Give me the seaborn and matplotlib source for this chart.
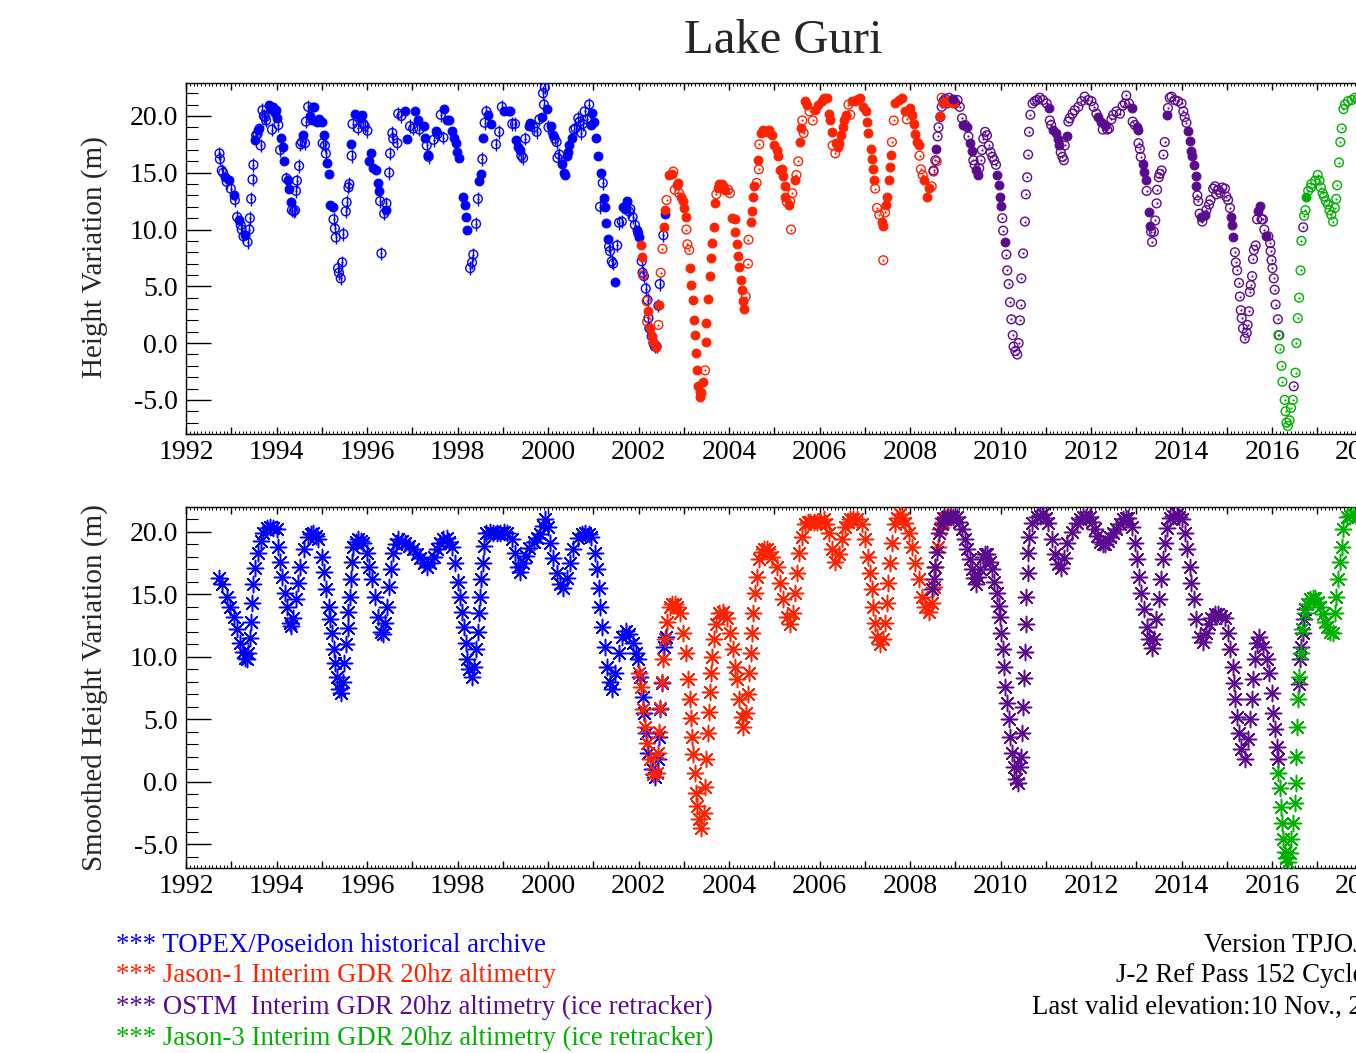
import numpy as np
import pandas as pd
import matplotlib
matplotlib.use("Agg")
import matplotlib.pyplot as plt
from matplotlib.ticker import MultipleLocator, FuncFormatter
import seaborn as sns

# ---------------- data (decimal year, height [m], filled flag) ----------------
topex_obs = [
    (1992.74, 16.7, 0), (1992.75, 16.2, 0), (1992.79, 15.2, 0), (1992.82, 15.0, 0), (1992.86, 14.6, 1),
    (1992.90, 14.2, 0), (1992.94, 14.4, 1), (1992.99, 13.6, 0), (1993.05, 13.0, 1), (1993.08, 12.6, 0),
    (1993.13, 11.1, 0), (1993.17, 10.8, 1), (1993.21, 10.4, 0), (1993.23, 10.0, 0), (1993.27, 9.4, 0),
    (1993.31, 9.5, 1), (1993.36, 8.9, 0), (1993.40, 10.0, 0), (1993.41, 11.0, 0), (1993.44, 12.7, 0),
    (1993.47, 14.4, 0), (1993.49, 15.7, 0), (1993.52, 17.9, 1), (1993.55, 18.3, 0), (1993.58, 18.4, 0),
    (1993.60, 18.8, 1), (1993.62, 18.9, 1), (1993.65, 17.4, 0), (1993.69, 20.5, 0), (1993.72, 20.0, 0),
    (1993.75, 19.9, 0), (1993.77, 19.6, 0), (1993.84, 21.0, 1), (1993.88, 20.6, 1), (1993.90, 18.8, 0),
    (1993.93, 20.8, 1), (1993.96, 20.3, 1), (1993.99, 20.5, 1), (1994.01, 19.8, 1), (1994.04, 19.2, 0),
    (1994.08, 17.0, 0), (1994.11, 18.1, 1), (1994.14, 17.3, 1), (1994.17, 16.0, 1), (1994.22, 14.5, 0),
    (1994.25, 14.4, 1), (1994.28, 13.6, 1), (1994.31, 12.4, 1), (1994.34, 11.7, 0), (1994.38, 11.6, 0),
    (1994.41, 11.7, 0), (1994.43, 13.4, 0), (1994.45, 14.3, 0), (1994.50, 15.6, 0), (1994.53, 17.5, 0),
    (1994.56, 17.7, 0), (1994.58, 18.3, 1), (1994.63, 17.6, 0), (1994.65, 19.5, 0), (1994.70, 20.8, 0),
    (1994.75, 20.0, 1), (1994.78, 19.6, 1), (1994.80, 20.8, 1), (1994.83, 20.8, 1), (1994.89, 19.5, 1),
    (1994.95, 19.7, 1), (1995.00, 19.5, 1), (1995.02, 17.6, 0), (1995.05, 18.3, 1), (1995.07, 17.4, 0),
    (1995.09, 16.7, 0), (1995.12, 15.9, 1), (1995.15, 14.9, 1), (1995.18, 12.2, 1), (1995.24, 12.0, 1),
    (1995.26, 10.9, 0), (1995.29, 10.1, 0), (1995.31, 9.3, 0), (1995.36, 6.6, 0), (1995.38, 6.2, 0),
    (1995.42, 5.7, 0), (1995.45, 7.1, 0), (1995.48, 9.6, 0), (1995.53, 11.6, 0), (1995.55, 12.4, 0),
    (1995.59, 13.7, 0), (1995.61, 14.0, 0), (1995.64, 17.5, 1), (1995.66, 16.5, 0), (1995.68, 19.3, 0),
    (1995.73, 20.2, 1), (1995.80, 18.9, 0), (1995.85, 19.8, 1), (1995.88, 20.1, 1), (1995.92, 19.3, 0),
    (1995.95, 19.1, 0), (1996.01, 18.7, 0), (1996.05, 16.0, 1), (1996.08, 16.7, 1), (1996.14, 15.4, 1),
    (1996.20, 15.2, 1), (1996.24, 14.1, 1), (1996.27, 13.4, 1), (1996.29, 12.5, 0), (1996.32, 7.9, 0),
    (1996.38, 11.4, 0), (1996.41, 11.7, 1), (1996.43, 12.3, 0), (1996.49, 15.0, 0), (1996.51, 16.7, 0),
    (1996.56, 18.5, 0), (1996.58, 18.0, 0), (1996.67, 17.6, 0), (1996.69, 20.2, 0), (1996.76, 20.0, 0),
    (1996.84, 20.4, 1), (1996.89, 18.0, 1), (1996.95, 19.1, 0), (1997.02, 18.9, 0), (1997.06, 20.4, 1),
    (1997.13, 19.6, 1), (1997.16, 18.8, 0), (1997.25, 19.1, 1), (1997.28, 18.1, 1), (1997.32, 17.4, 0),
    (1997.34, 16.6, 1), (1997.36, 16.4, 0), (1997.47, 17.9, 0), (1997.53, 18.7, 1), (1997.56, 18.4, 0),
    (1997.63, 20.1, 0), (1997.69, 18.1, 0), (1997.70, 20.6, 1), (1997.76, 19.6, 1), (1997.82, 19.6, 1),
    (1997.87, 18.7, 1), (1997.93, 18.1, 1), (1997.97, 17.6, 1), (1997.99, 16.8, 1), (1998.03, 16.3, 1),
    (1998.13, 12.9, 1), (1998.17, 12.2, 1), (1998.19, 11.1, 1), (1998.22, 10.0, 1), (1998.28, 6.6, 0),
    (1998.32, 7.1, 0), (1998.35, 7.8, 0), (1998.41, 10.5, 0), (1998.45, 12.7, 0), (1998.48, 14.3, 1),
    (1998.52, 14.9, 1), (1998.55, 16.2, 0), (1998.57, 18.1, 1), (1998.60, 19.4, 0), (1998.64, 20.4, 0),
    (1998.68, 20.1, 1), (1998.75, 19.3, 1), (1998.85, 17.5, 0), (1998.92, 18.6, 0), (1998.98, 20.8, 0),
    (1999.02, 20.4, 1), (1999.13, 20.4, 1), (1999.16, 20.4, 1), (1999.21, 19.3, 0), (1999.27, 19.3, 0),
    (1999.29, 17.9, 1), (1999.34, 17.3, 1), (1999.38, 17.0, 1), (1999.41, 16.5, 0), (1999.45, 16.3, 0),
    (1999.50, 18.0, 0), (1999.57, 19.1, 1), (1999.61, 19.4, 1), (1999.68, 19.0, 0), (1999.75, 18.6, 0),
    (1999.81, 19.7, 0), (1999.86, 19.9, 1), (1999.89, 22.0, 0), (1999.93, 22.5, 0), (1999.91, 21.0, 0),
    (1999.97, 20.6, 1), (2000.01, 19.0, 0), (2000.06, 19.1, 1), (2000.10, 18.3, 1), (2000.15, 18.0, 0),
    (2000.19, 17.7, 0), (2000.21, 16.3, 0), (2000.25, 16.6, 0), (2000.30, 15.8, 1), (2000.35, 15.0, 1),
    (2000.37, 14.8, 1), (2000.41, 16.5, 1), (2000.45, 16.8, 1), (2000.47, 17.4, 1), (2000.52, 18.1, 1),
    (2000.57, 18.8, 0), (2000.61, 18.9, 0), (2000.67, 19.8, 0), (2000.70, 19.5, 0), (2000.74, 18.5, 0),
    (2000.77, 19.3, 0), (2000.81, 20.4, 0), (2000.86, 19.7, 0), (2000.91, 21.0, 0), (2000.94, 19.2, 1),
    (2000.98, 20.3, 1), (2001.01, 19.5, 1), (2001.07, 18.1, 1), (2001.11, 16.5, 1), (2001.15, 12.0, 0),
    (2001.18, 15.0, 1), (2001.21, 14.1, 0), (2001.24, 12.8, 1), (2001.27, 12.0, 1), (2001.29, 10.6, 1),
    (2001.32, 9.2, 1), (2001.35, 8.5, 0), (2001.37, 8.1, 0), (2001.41, 7.2, 0), (2001.44, 7.0, 0),
    (2001.48, 5.4, 1), (2001.53, 8.6, 0), (2001.57, 10.6, 0), (2001.63, 10.7, 0), (2001.66, 12.0, 1),
    (2001.71, 11.8, 1), (2001.75, 12.5, 1), (2001.79, 11.6, 0), (2001.82, 11.8, 0), (2001.87, 11.1, 0),
    (2001.92, 10.4, 0), (2001.96, 10.0, 1), (2001.99, 9.7, 0), (2002.02, 9.3, 1), (2002.07, 7.2, 0),
    (2002.09, 6.2, 0), (2002.12, 5.9, 0), (2002.16, 4.8, 0), (2002.20, 3.8, 0), (2002.22, 2.2, 0),
    (2002.24, 1.3, 0), (2002.29, 0.6, 0), (2002.33, 0.0, 0), (2002.36, -0.3, 0), (2002.40, -0.3, 0),
    (2002.44, 3.3, 0), (2002.47, 5.2, 0), (2002.55, 9.5, 0), (2002.58, 11.4, 1),
]

jason1_obs = [
    (2002.05, 8.6, 1), (2002.07, 7.6, 1), (2002.10, 6.0, 0), (2002.18, 3.7, 0), (2002.21, 2.8, 1),
    (2002.19, 1.9, 0), (2002.25, 1.3, 1), (2002.29, 0.6, 1), (2002.33, 0.1, 1), (2002.38, -0.3, 1),
    (2002.44, 1.6, 0), (2002.46, 3.4, 1), (2002.49, 6.2, 0), (2002.53, 8.3, 0), (2002.56, 10.2, 1),
    (2002.58, 11.7, 1), (2002.62, 12.6, 0), (2002.68, 14.8, 1), (2002.73, 14.9, 1), (2002.77, 15.1, 0),
    (2002.80, 13.5, 0), (2002.84, 13.9, 1), (2002.88, 14.1, 1), (2002.90, 13.2, 0), (2002.95, 12.9, 1),
    (2002.99, 12.5, 1), (2003.00, 11.9, 1), (2003.04, 11.1, 1), (2003.06, 10.0, 0), (2003.08, 8.7, 0),
    (2003.12, 8.2, 0), (2003.14, 6.6, 1), (2003.17, 5.1, 1), (2003.20, 3.8, 1), (2003.22, 2.0, 1),
    (2003.25, 0.7, 1), (2003.27, -0.9, 1), (2003.30, -2.4, 1), (2003.32, -3.8, 1), (2003.35, -4.3, 1),
    (2003.37, -4.7, 1), (2003.39, -4.4, 0), (2003.43, -3.4, 1), (2003.47, -2.4, 0), (2003.49, 0.1, 1),
    (2003.50, 1.8, 1), (2003.54, 3.9, 1), (2003.58, 5.9, 1), (2003.60, 7.5, 1), (2003.63, 8.8, 1),
    (2003.67, 10.2, 1), (2003.69, 12.3, 1), (2003.72, 13.1, 0), (2003.75, 13.7, 1), (2003.79, 14.0, 1),
    (2003.84, 14.0, 1), (2003.87, 13.8, 1), (2003.91, 13.5, 1), (2003.98, 13.5, 0), (2004.02, 13.2, 0),
    (2004.07, 11.0, 1), (2004.13, 10.9, 1), (2004.14, 9.8, 1), (2004.18, 8.7, 1), (2004.20, 7.7, 1),
    (2004.22, 6.7, 1), (2004.26, 5.6, 1), (2004.28, 4.7, 1), (2004.31, 3.7, 1), (2004.33, 3.0, 1),
    (2004.37, 4.1, 0), (2004.42, 7.0, 0), (2004.43, 9.1, 0), (2004.48, 10.7, 1), (2004.50, 11.6, 1),
    (2004.52, 12.9, 1), (2004.56, 13.8, 1), (2004.61, 14.1, 0), (2004.64, 16.1, 1), (2004.66, 15.3, 0),
    (2004.67, 17.5, 0), (2004.70, 18.5, 1), (2004.75, 18.8, 1), (2004.83, 18.6, 1), (2004.89, 18.8, 1),
    (2004.94, 18.3, 1), (2005.00, 17.4, 1), (2005.05, 17.0, 1), (2005.09, 16.5, 1), (2005.13, 15.2, 1),
    (2005.17, 15.3, 1), (2005.20, 14.7, 1), (2005.23, 13.8, 1), (2005.24, 12.9, 1), (2005.28, 12.4, 0),
    (2005.32, 12.2, 1), (2005.35, 12.5, 0), (2005.37, 10.0, 0), (2005.40, 13.2, 0), (2005.46, 14.4, 1),
    (2005.49, 14.8, 0), (2005.53, 16.0, 0), (2005.57, 17.7, 1), (2005.59, 18.9, 1), (2005.62, 19.6, 0),
    (2005.65, 18.5, 0), (2005.68, 21.3, 1), (2005.72, 21.0, 1), (2005.78, 20.4, 0), (2005.85, 19.6, 0),
    (2005.90, 20.5, 1), (2005.97, 21.0, 1), (2006.05, 21.3, 1), (2006.10, 21.6, 1), (2006.16, 21.6, 1),
    (2006.20, 20.2, 1), (2006.23, 19.6, 1), (2006.27, 18.6, 1), (2006.29, 17.4, 0), (2006.35, 16.7, 0),
    (2006.37, 17.6, 1), (2006.40, 17.3, 1), (2006.44, 17.6, 1), (2006.48, 18.3, 1), (2006.52, 19.0, 1),
    (2006.55, 19.6, 1), (2006.59, 20.1, 1), (2006.64, 21.0, 0), (2006.68, 20.1, 0), (2006.71, 21.3, 1),
    (2006.79, 21.3, 1), (2006.84, 21.4, 0), (2006.90, 21.6, 1), (2006.97, 20.8, 1), (2007.02, 20.4, 1),
    (2007.05, 19.5, 1), (2007.08, 18.5, 1), (2007.13, 17.1, 1), (2007.17, 16.2, 1), (2007.19, 15.3, 1),
    (2007.21, 14.4, 1), (2007.23, 13.6, 0), (2007.27, 11.9, 0), (2007.32, 11.3, 0), (2007.38, 10.7, 1),
    (2007.40, 10.3, 1), (2007.41, 7.3, 0), (2007.45, 11.5, 0), (2007.47, 12.2, 1), (2007.50, 12.9, 1),
    (2007.53, 14.4, 1), (2007.56, 15.5, 1), (2007.58, 16.6, 1), (2007.60, 17.7, 0), (2007.64, 19.6, 0),
    (2007.67, 21.1, 1), (2007.75, 21.4, 1), (2007.82, 21.6, 1), (2007.89, 20.4, 1), (2007.93, 19.7, 0),
    (2007.99, 20.7, 1), (2008.04, 20.1, 1), (2008.08, 19.3, 1), (2008.11, 18.4, 1), (2008.15, 17.7, 1),
    (2008.19, 17.4, 1), (2008.21, 16.5, 0), (2008.24, 15.3, 0), (2008.28, 14.8, 0), (2008.32, 14.4, 1),
    (2008.37, 12.9, 1), (2008.43, 13.7, 1), (2008.48, 13.8, 0), (2008.52, 15.1, 0), (2008.59, 16.0, 0),
    (2008.67, 20.0, 1), (2008.70, 21.6, 0), (2008.74, 21.1, 1), (2008.81, 21.3, 1), (2008.89, 21.4, 1),
    (2008.96, 21.1, 1),
]

ostm_obs = [
    (2008.52, 15.2, 0), (2008.56, 16.1, 0), (2008.58, 17.1, 1), (2008.61, 18.2, 0), (2008.63, 19.0, 0),
    (2008.67, 19.9, 0), (2008.70, 20.8, 0), (2008.74, 21.3, 0), (2008.78, 21.5, 0), (2008.82, 21.1, 0),
    (2008.86, 21.6, 0), (2008.90, 21.3, 0), (2008.95, 21.5, 1), (2009.00, 21.1, 0), (2009.05, 21.4, 0),
    (2009.10, 20.8, 0), (2009.15, 19.8, 0), (2009.18, 19.2, 1), (2009.22, 19.2, 0), (2009.26, 19.0, 1),
    (2009.29, 18.2, 0), (2009.33, 17.6, 1), (2009.37, 16.9, 1), (2009.40, 16.1, 0), (2009.43, 15.7, 0),
    (2009.46, 15.2, 1), (2009.50, 14.8, 1), (2009.53, 15.4, 0), (2009.56, 16.1, 0), (2009.59, 17.0, 0),
    (2009.62, 18.0, 0), (2009.66, 18.6, 0), (2009.70, 18.3, 0), (2009.74, 17.4, 0), (2009.78, 16.8, 0),
    (2009.82, 16.4, 0), (2009.86, 16.1, 0), (2009.90, 15.7, 0), (2009.93, 14.8, 1), (2009.96, 13.9, 1),
    (2009.99, 12.9, 1), (2010.01, 12.1, 1), (2010.04, 11.0, 0), (2010.06, 9.9, 0), (2010.10, 8.9, 1),
    (2010.13, 7.8, 0), (2010.15, 6.4, 0), (2010.18, 5.2, 0), (2010.21, 3.6, 0), (2010.24, 2.1, 0),
    (2010.27, 0.7, 0), (2010.29, -0.3, 0), (2010.33, -0.7, 0), (2010.37, -1.0, 0), (2010.40, 0.0, 0),
    (2010.43, 2.0, 0), (2010.45, 3.4, 0), (2010.46, 5.7, 0), (2010.50, 7.9, 0), (2010.54, 10.7, 0),
    (2010.56, 13.1, 0), (2010.59, 14.6, 0), (2010.61, 16.6, 0), (2010.63, 18.6, 0), (2010.66, 20.1, 0),
    (2010.71, 21.1, 0), (2010.76, 21.3, 0), (2010.81, 21.4, 0), (2010.87, 21.6, 0), (2010.94, 21.4, 0),
    (2011.02, 21.1, 0), (2011.07, 20.7, 1), (2011.09, 19.6, 0), (2011.12, 19.2, 0), (2011.16, 18.8, 1),
    (2011.22, 18.5, 1), (2011.27, 18.0, 1), (2011.29, 17.4, 1), (2011.33, 16.8, 0), (2011.37, 16.4, 0),
    (2011.40, 16.1, 0), (2011.42, 17.4, 0), (2011.46, 18.2, 1), (2011.50, 19.5, 0), (2011.53, 19.8, 0),
    (2011.59, 20.2, 0), (2011.64, 20.5, 0), (2011.72, 20.8, 0), (2011.79, 21.3, 0), (2011.86, 21.7, 0),
    (2011.94, 21.4, 0), (2012.01, 21.3, 0), (2012.06, 20.8, 0), (2012.12, 20.2, 0), (2012.16, 19.9, 1),
    (2012.22, 19.5, 1), (2012.26, 18.8, 0), (2012.31, 19.2, 1), (2012.36, 18.8, 0), (2012.40, 18.9, 0),
    (2012.45, 19.7, 0), (2012.49, 20.1, 0), (2012.56, 20.4, 0), (2012.64, 20.2, 0), (2012.70, 20.9, 0),
    (2012.75, 21.1, 0), (2012.78, 21.8, 0), (2012.84, 21.1, 0), (2012.90, 20.7, 1), (2012.92, 19.5, 0),
    (2012.97, 19.2, 0), (2013.01, 19.0, 1), (2013.03, 18.8, 1), (2013.05, 17.6, 0), (2013.08, 17.1, 0),
    (2013.10, 16.4, 0), (2013.14, 15.8, 1), (2013.17, 15.1, 1), (2013.21, 14.4, 1), (2013.23, 13.4, 0),
    (2013.28, 11.5, 1), (2013.30, 10.3, 1), (2013.33, 9.8, 0), (2013.35, 8.9, 0), (2013.39, 9.8, 0),
    (2013.42, 10.8, 0), (2013.45, 12.3, 0), (2013.46, 13.5, 0), (2013.50, 14.6, 0), (2013.52, 14.9, 0),
    (2013.56, 15.2, 0), (2013.60, 16.6, 0), (2013.63, 17.7, 0), (2013.67, 20.1, 1), (2013.70, 20.7, 0),
    (2013.74, 21.6, 0), (2013.78, 21.7, 0), (2013.85, 21.4, 0), (2013.92, 21.3, 0), (2014.00, 21.1, 0),
    (2014.04, 20.4, 0), (2014.07, 19.9, 0), (2014.11, 19.4, 0), (2014.15, 18.7, 1), (2014.18, 17.8, 1),
    (2014.20, 16.9, 1), (2014.24, 16.5, 1), (2014.28, 15.7, 1), (2014.31, 14.7, 1), (2014.33, 13.8, 1),
    (2014.35, 13.0, 0), (2014.37, 12.5, 0), (2014.40, 11.4, 0), (2014.44, 11.1, 1), (2014.46, 10.7, 0),
    (2014.52, 11.3, 1), (2014.55, 11.7, 0), (2014.61, 12.2, 0), (2014.64, 12.6, 0), (2014.70, 13.6, 0),
    (2014.74, 13.8, 0), (2014.77, 13.1, 0), (2014.81, 13.5, 0), (2014.86, 13.2, 0), (2014.90, 13.7, 0),
    (2014.96, 13.6, 0), (2014.99, 12.9, 0), (2015.03, 12.6, 0), (2015.07, 11.9, 0), (2015.09, 11.1, 1),
    (2015.12, 10.4, 1), (2015.14, 9.3, 1), (2015.18, 8.0, 0), (2015.20, 7.1, 0), (2015.23, 6.4, 0),
    (2015.27, 5.3, 0), (2015.29, 4.1, 0), (2015.31, 2.9, 0), (2015.33, 2.2, 0), (2015.36, 1.3, 0),
    (2015.40, 0.4, 0), (2015.44, 0.9, 0), (2015.46, 1.6, 0), (2015.49, 2.8, 0), (2015.51, 4.5, 0),
    (2015.53, 5.1, 0), (2015.56, 5.9, 0), (2015.58, 7.4, 0), (2015.60, 8.2, 0), (2015.64, 8.6, 0),
    (2015.67, 10.9, 0), (2015.69, 11.6, 1), (2015.73, 12.1, 1), (2015.77, 10.9, 0), (2015.80, 10.9, 0),
    (2015.83, 10.0, 0), (2015.86, 9.4, 1), (2015.92, 9.4, 0), (2015.96, 8.8, 0), (2015.97, 8.1, 0),
    (2015.99, 7.3, 0), (2016.01, 6.6, 0), (2016.04, 5.7, 0), (2016.06, 4.7, 0), (2016.08, 3.4, 0),
    (2016.13, 2.1, 0), (2016.16, 0.7, 0), (2016.48, -3.8, 0), (2016.69, 10.2, 0),
]

jason3_obs = [
    (2016.14, 0.7, 0), (2016.17, -0.5, 0), (2016.21, -2.0, 0), (2016.23, -3.4, 0), (2016.28, -5.0, 0),
    (2016.30, -6.0, 0), (2016.32, -7.0, 0), (2016.35, -7.3, 0), (2016.39, -6.8, 0), (2016.42, -5.7, 0),
    (2016.46, -5.0, 0), (2016.52, -2.6, 0), (2016.54, 0.0, 0), (2016.57, 2.2, 0), (2016.60, 4.0, 0),
    (2016.63, 6.4, 0), (2016.65, 9.0, 0), (2016.71, 11.2, 0), (2016.74, 11.7, 0), (2016.76, 12.9, 1),
    (2016.80, 13.4, 0), (2016.86, 13.7, 0), (2016.87, 14.0, 0), (2016.95, 14.3, 0), (2017.01, 14.8, 0),
    (2017.05, 14.3, 0), (2017.08, 13.7, 0), (2017.12, 13.2, 0), (2017.15, 12.9, 0), (2017.19, 12.5, 0),
    (2017.24, 12.2, 0), (2017.27, 11.7, 0), (2017.31, 11.3, 0), (2017.35, 10.7, 0), (2017.39, 11.9, 0),
    (2017.42, 12.7, 0), (2017.44, 13.9, 0), (2017.48, 15.9, 0), (2017.51, 17.7, 0), (2017.54, 18.9, 0),
    (2017.58, 20.6, 0), (2017.61, 21.0, 0), (2017.68, 21.3, 0), (2017.76, 21.4, 0), (2017.83, 21.6, 0),
    (2017.90, 21.5, 0), (2017.97, 21.4, 0),
]

# smoothed series (decimal year, height [m])
topex_smooth = [
    (1992.74, 16.3), (1992.80, 15.8), (1992.90, 14.8), (1992.97, 14.0), (1993.05, 13.2), (1993.12, 12.2),
    (1993.19, 11.1), (1993.25, 10.4), (1993.30, 9.9), (1993.34, 9.8), (1993.38, 10.3), (1993.41, 11.5),
    (1993.44, 12.8), (1993.46, 14.3), (1993.49, 15.8), (1993.52, 17.1), (1993.60, 18.3), (1993.66, 19.3),
    (1993.71, 19.9), (1993.78, 20.3), (1993.86, 20.4), (1993.93, 20.3), (1994.00, 20.2), (1994.04, 18.8),
    (1994.08, 17.6), (1994.13, 16.4), (1994.19, 15.1), (1994.24, 14.0), (1994.30, 12.7), (1994.33, 12.5),
    (1994.37, 13.1), (1994.43, 14.6), (1994.48, 15.9), (1994.53, 17.2), (1994.61, 18.6), (1994.70, 19.6),
    (1994.76, 19.8), (1994.81, 19.9), (1994.87, 19.7), (1994.92, 19.4), (1995.00, 18.0), (1995.05, 16.8),
    (1995.09, 15.4), (1995.15, 14.0), (1995.18, 13.0), (1995.22, 11.9), (1995.26, 10.6), (1995.29, 9.5),
    (1995.33, 8.4), (1995.39, 7.4), (1995.42, 7.1), (1995.46, 8.0), (1995.49, 9.5), (1995.54, 11.0),
    (1995.57, 12.3), (1995.59, 13.6), (1995.62, 14.8), (1995.64, 16.2), (1995.66, 17.6), (1995.70, 18.8),
    (1995.75, 19.2), (1995.81, 19.4), (1995.87, 19.3), (1995.92, 19.1), (1996.00, 18.3), (1996.05, 17.2),
    (1996.10, 16.2), (1996.18, 14.8), (1996.25, 13.2), (1996.32, 12.0), (1996.36, 11.8), (1996.40, 12.7),
    (1996.45, 14.0), (1996.49, 15.6), (1996.52, 17.0), (1996.58, 18.3), (1996.64, 19.0), (1996.69, 19.4),
    (1996.77, 19.3), (1996.84, 19.1), (1996.93, 18.9), (1997.02, 18.6), (1997.10, 18.2), (1997.17, 17.9),
    (1997.25, 17.5), (1997.32, 17.2), (1997.40, 17.5), (1997.47, 18.0), (1997.54, 18.6), (1997.61, 19.1),
    (1997.69, 19.4), (1997.76, 19.5), (1997.82, 19.2), (1997.87, 18.8), (1997.94, 17.5), (1998.00, 16.0),
    (1998.06, 14.8), (1998.11, 13.6), (1998.14, 12.4), (1998.19, 11.1), (1998.22, 9.8), (1998.26, 9.0),
    (1998.31, 8.4), (1998.37, 9.2), (1998.41, 10.6), (1998.45, 12.0), (1998.48, 13.5), (1998.50, 14.8),
    (1998.53, 16.2), (1998.56, 17.5), (1998.59, 18.9), (1998.64, 19.9), (1998.72, 20.0), (1998.79, 19.9),
    (1998.87, 19.9), (1998.94, 19.9), (1999.02, 20.0), (1999.09, 19.9), (1999.20, 19.4), (1999.27, 18.3),
    (1999.34, 17.2), (1999.39, 16.8), (1999.45, 17.5), (1999.51, 18.1), (1999.57, 18.7), (1999.68, 19.2),
    (1999.75, 19.5), (1999.82, 19.8), (1999.88, 20.5), (1999.93, 21.0), (2000.00, 20.4), (2000.05, 19.1),
    (2000.12, 17.9), (2000.19, 16.7), (2000.27, 15.8), (2000.34, 15.5), (2000.41, 16.3), (2000.48, 17.5),
    (2000.56, 18.6), (2000.67, 19.5), (2000.75, 19.8), (2000.82, 19.9), (2000.90, 19.8), (2000.96, 19.6),
    (2001.04, 18.3), (2001.09, 17.0), (2001.13, 15.5), (2001.16, 14.0), (2001.20, 12.4), (2001.26, 10.8),
    (2001.31, 9.2), (2001.37, 8.0), (2001.42, 7.4), (2001.49, 8.7), (2001.56, 10.3), (2001.64, 11.6),
    (2001.72, 12.1), (2001.80, 11.8), (2001.88, 11.1), (2001.95, 10.3), (2001.99, 9.8), (2002.04, 8.4),
    (2002.09, 6.8), (2002.13, 5.5), (2002.16, 3.9), (2002.21, 2.3), (2002.29, 1.0), (2002.36, 0.4),
    (2002.44, 1.8), (2002.46, 3.6), (2002.47, 5.8), (2002.51, 7.9), (2002.56, 10.8), (2002.60, 11.6),
]

jason1_smooth = [
    (2002.02, 8.7), (2002.05, 7.6), (2002.09, 5.8), (2002.14, 4.4), (2002.19, 3.1), (2002.25, 1.8),
    (2002.33, 0.6), (2002.40, 0.7), (2002.43, 2.3), (2002.46, 4.0), (2002.47, 5.9), (2002.51, 8.0),
    (2002.55, 9.8), (2002.58, 11.4), (2002.62, 12.8), (2002.69, 14.0), (2002.75, 14.2), (2002.80, 14.2),
    (2002.86, 14.0), (2002.92, 13.5), (2002.99, 11.9), (2003.04, 10.3), (2003.10, 8.2), (2003.13, 6.6),
    (2003.17, 5.1), (2003.19, 3.6), (2003.21, 2.2), (2003.24, 0.7), (2003.27, -0.9), (2003.29, -1.9),
    (2003.34, -3.0), (2003.39, -3.7), (2003.45, -2.5), (2003.48, -0.4), (2003.50, 1.8), (2003.54, 3.9),
    (2003.56, 5.6), (2003.59, 7.2), (2003.61, 8.7), (2003.63, 10.0), (2003.67, 11.4), (2003.71, 12.6),
    (2003.78, 13.5), (2003.87, 13.6), (2003.95, 13.1), (2004.02, 11.9), (2004.08, 10.6), (2004.13, 9.2),
    (2004.17, 8.2), (2004.22, 6.6), (2004.28, 5.2), (2004.31, 4.4), (2004.37, 5.5), (2004.41, 7.0),
    (2004.45, 8.7), (2004.48, 10.3), (2004.50, 11.9), (2004.54, 13.5), (2004.57, 15.1), (2004.61, 16.4),
    (2004.66, 17.8), (2004.72, 18.4), (2004.78, 18.6), (2004.83, 18.6), (2004.89, 18.4), (2004.94, 18.0),
    (2005.06, 17.2), (2005.13, 15.9), (2005.20, 14.6), (2005.28, 13.2), (2005.34, 12.6), (2005.41, 13.5),
    (2005.46, 15.1), (2005.51, 16.7), (2005.55, 18.3), (2005.61, 19.6), (2005.68, 20.6), (2005.74, 20.8),
    (2005.79, 20.8), (2005.87, 20.8), (2005.94, 20.8), (2006.02, 20.9), (2006.09, 21.0), (2006.15, 20.6),
    (2006.20, 19.9), (2006.27, 18.6), (2006.35, 17.6), (2006.42, 18.2), (2006.49, 19.4), (2006.57, 20.4),
    (2006.62, 20.8), (2006.68, 21.0), (2006.75, 21.0), (2006.82, 21.0), (2006.94, 20.6), (2007.01, 19.4),
    (2007.07, 18.0), (2007.12, 16.7), (2007.16, 15.4), (2007.19, 14.0), (2007.23, 12.7), (2007.28, 11.6),
    (2007.34, 11.0), (2007.40, 11.4), (2007.45, 12.7), (2007.49, 14.3), (2007.52, 15.9), (2007.56, 17.5),
    (2007.61, 19.1), (2007.67, 20.6), (2007.72, 21.1), (2007.78, 21.4), (2007.84, 21.1), (2007.89, 20.7),
    (2007.97, 19.9), (2008.04, 18.8), (2008.11, 17.5), (2008.19, 16.2), (2008.26, 14.8), (2008.34, 14.0),
    (2008.41, 13.6), (2008.48, 14.3), (2008.52, 15.6), (2008.56, 17.2), (2008.61, 18.8), (2008.67, 20.2),
    (2008.72, 20.8), (2008.78, 21.1), (2008.84, 21.2), (2008.90, 21.2),
]

ostm_smooth = [
    (2008.48, 15.4), (2008.52, 16.2), (2008.56, 17.2), (2008.59, 18.4), (2008.65, 19.9), (2008.70, 20.6),
    (2008.74, 21.1), (2008.82, 21.2), (2008.89, 21.2), (2008.96, 21.2), (2009.03, 21.2), (2009.09, 20.8),
    (2009.15, 20.2), (2009.21, 19.4), (2009.26, 18.6), (2009.32, 17.8), (2009.37, 17.0), (2009.42, 16.3),
    (2009.46, 15.8), (2009.51, 16.4), (2009.55, 17.0), (2009.62, 18.0), (2009.66, 18.2), (2009.70, 18.2),
    (2009.76, 17.6), (2009.81, 17.0), (2009.86, 16.0), (2009.92, 15.1), (2009.96, 14.1), (2009.99, 13.2),
    (2010.02, 11.9), (2010.06, 10.6), (2010.08, 9.2), (2010.11, 7.6), (2010.15, 6.3), (2010.18, 5.0),
    (2010.22, 3.6), (2010.26, 2.3), (2010.29, 1.2), (2010.34, 0.2), (2010.38, -0.1), (2010.43, 1.2),
    (2010.45, 2.0), (2010.48, 3.9), (2010.50, 6.0), (2010.52, 8.3), (2010.54, 10.4), (2010.56, 12.6),
    (2010.57, 14.8), (2010.60, 16.7), (2010.61, 18.3), (2010.63, 19.6), (2010.69, 20.7), (2010.80, 21.2),
    (2010.87, 21.3), (2010.94, 21.4), (2011.00, 21.1), (2011.05, 20.7), (2011.13, 19.4), (2011.20, 18.2),
    (2011.27, 17.4), (2011.33, 17.1), (2011.40, 17.9), (2011.47, 19.1), (2011.57, 20.0), (2011.68, 20.7),
    (2011.76, 21.0), (2011.83, 21.2), (2011.90, 21.2), (2011.97, 21.2), (2012.03, 20.8), (2012.08, 20.2),
    (2012.14, 19.7), (2012.20, 19.2), (2012.26, 19.0), (2012.31, 19.0), (2012.37, 19.3), (2012.42, 19.6),
    (2012.49, 19.9), (2012.56, 20.2), (2012.64, 20.6), (2012.71, 21.0), (2012.77, 21.1), (2012.82, 21.1),
    (2012.90, 20.4), (2012.97, 19.1), (2013.02, 17.8), (2013.06, 16.4), (2013.11, 15.1), (2013.17, 13.8),
    (2013.23, 12.4), (2013.29, 11.4), (2013.34, 10.7), (2013.40, 11.4), (2013.44, 13.0), (2013.50, 14.6),
    (2013.54, 16.2), (2013.59, 17.8), (2013.63, 19.1), (2013.67, 20.3), (2013.74, 21.1), (2013.82, 21.3),
    (2013.89, 21.4), (2013.95, 21.2), (2014.00, 21.0), (2014.07, 19.9), (2014.12, 18.6), (2014.18, 17.2),
    (2014.21, 15.9), (2014.27, 14.6), (2014.33, 13.0), (2014.41, 11.6), (2014.48, 11.2), (2014.55, 11.9),
    (2014.61, 12.6), (2014.66, 13.1), (2014.74, 13.4), (2014.81, 13.4), (2014.88, 13.3), (2014.96, 13.1),
    (2015.03, 11.9), (2015.08, 10.6), (2015.13, 9.2), (2015.15, 7.9), (2015.19, 6.6), (2015.22, 5.2),
    (2015.27, 3.9), (2015.32, 2.6), (2015.40, 1.8), (2015.47, 3.4), (2015.51, 5.0), (2015.55, 6.6),
    (2015.58, 8.2), (2015.62, 9.8), (2015.66, 11.1), (2015.72, 11.6), (2015.80, 10.8), (2015.88, 9.8),
    (2015.94, 8.7), (2015.99, 7.1), (2016.02, 5.5), (2016.06, 4.2), (2016.10, 2.8), (2016.14, 1.8),
    (2016.59, 7.8), (2016.62, 9.8), (2016.65, 10.8), (2016.68, 11.9), (2016.70, 13.0), (2016.72, 13.8),
]

jason3_smooth = [
    (2016.14, 0.7), (2016.17, -0.5), (2016.19, -2.0), (2016.22, -3.3), (2016.24, -4.6), (2016.28, -5.6),
    (2016.32, -6.1), (2016.35, -6.4), (2016.39, -5.7), (2016.43, -4.6), (2016.47, -3.3), (2016.50, -1.7),
    (2016.53, -0.1), (2016.54, 2.0), (2016.56, 4.4), (2016.58, 6.6), (2016.60, 8.4), (2016.63, 10.3),
    (2016.67, 12.2), (2016.72, 13.5), (2016.78, 14.2), (2016.84, 14.6), (2016.90, 14.7), (2016.95, 14.7),
    (2017.01, 14.4), (2017.06, 14.0), (2017.12, 13.4), (2017.17, 12.8), (2017.22, 12.4), (2017.28, 12.0),
    (2017.34, 11.9), (2017.39, 13.5), (2017.42, 14.8), (2017.46, 16.2), (2017.50, 17.6), (2017.54, 18.8),
    (2017.57, 20.2), (2017.65, 21.2), (2017.72, 21.3), (2017.79, 21.4), (2017.86, 21.3), (2017.93, 21.3),
    (2018.00, 21.3),
]

mission_names = ["TOPEX/Poseidon historical archive",
                 "Jason-1 Interim GDR 20hz altimetry",
                 "OSTM  Interim GDR 20hz altimetry (ice retracker)",
                 "Jason-3 Interim GDR 20hz altimetry (ice retracker)"]
mission_colors = ["#0000ff", "#ff2200", "#5a0a8e", "#00b000"]
info_lines = ["Version TPJOJ.2", "J-2 Ref Pass 152 Cycle 62", "Last valid elevation:10 Nov., 2017"]

# ---------------- figure ----------------
sns.set_theme(style="white")
plt.rcParams["font.family"] = ["Liberation Serif", "DejaVu Serif"]
plt.rcParams["axes.unicode_minus"] = False

W, H = 1356, 1053
fig = plt.figure(figsize=(W / 100, H / 100), dpi=100)
fig.patch.set_facecolor("white")


def rect(left, top, right, bottom):
    return [left / W, 1 - bottom / H, (right - left) / W, (bottom - top) / H]


X0, X1 = 1992.0, 2020.0
PXY = 45.25
right_px = 186 + (X1 - X0) * PXY
ax1 = fig.add_axes(rect(186, 83, right_px, 434))
ax2 = fig.add_axes(rect(186, 507, right_px, 868))

for ax, ylim in ((ax1, (-8.0, 22.9)), (ax2, (-6.9, 22.0))):
    ax.set_xlim(X0, X1)
    ax.set_ylim(*ylim)
    ax.set_facecolor("white")
    ax.grid(False)
    for s in ax.spines.values():
        s.set_color("black")
        s.set_linewidth(1.0)
    ax.xaxis.set_major_locator(MultipleLocator(1))
    ax.xaxis.set_minor_locator(MultipleLocator(1 / 12))
    ax.xaxis.set_major_formatter(FuncFormatter(
        lambda v, p: f"{int(round(v))}" if int(round(v)) % 2 == 0 else ""))
    ax.yaxis.set_major_locator(MultipleLocator(5))
    ax.yaxis.set_minor_locator(MultipleLocator(1))
    ax.yaxis.set_major_formatter(FuncFormatter(lambda v, p: f"{v:.1f}"))
    ax.tick_params(axis="x", which="major", direction="in", length=5, width=1,
                   top=True, bottom=True, labelsize=20, pad=4, colors="black")
    ax.tick_params(axis="x", which="minor", direction="in", length=2.5, width=0.7,
                   top=True, bottom=True, colors="black")
    ax.tick_params(axis="y", which="major", direction="in", length=18, width=1,
                   left=True, right=True, labelsize=20, pad=6, colors="black")
    ax.tick_params(axis="y", which="minor", direction="in", length=8.5, width=0.8,
                   left=True, right=True, colors="black")

# top panel: observations
obs_sets = [topex_obs, jason1_obs, ostm_obs, jason3_obs]
for i, (obs, col) in enumerate(zip(obs_sets, mission_colors)):
    df = pd.DataFrame(obs, columns=["year", "height", "filled"])
    filled = df[df["filled"] == 1]
    opened = df[df["filled"] == 0]
    if i == 0:
        ax1.errorbar(opened["year"], opened["height"], yerr=0.6, fmt="none",
                     ecolor=col, elinewidth=1.0, capsize=0, zorder=3)
    sns.scatterplot(data=opened, x="year", y="height", ax=ax1, marker="o", s=40,
                    color=col, facecolor="none", edgecolor=col, linewidth=1.0,
                    zorder=3, legend=False)
    sns.scatterplot(data=opened, x="year", y="height", ax=ax1, marker="o", s=2.5,
                    color=col, edgecolor=col, linewidth=0, zorder=3, legend=False)
    sns.scatterplot(data=filled, x="year", y="height", ax=ax1, marker="o", s=40,
                    color=col, edgecolor=col, linewidth=0.8, zorder=4, legend=False)

# bottom panel: smoothed
smooth_sets = [topex_smooth, jason1_smooth, ostm_smooth, jason3_smooth]
for sm, col in zip(smooth_sets, mission_colors):
    df = pd.DataFrame(sm, columns=["year", "height"])
    sns.scatterplot(data=df, x="year", y="height", ax=ax2, marker=(8, 2, 0), s=135,
                    color=col, linewidth=1.1, zorder=3, legend=False)

for ax in (ax1, ax2):
    ax.set_xlabel("")
    ax.set_ylabel("")

# texts
fig.text(783 / W, 1 - 41 / H, "Lake Guri", ha="center", va="center", fontsize=35)
fig.text(95 / W, 1 - 257 / H, "Height Variation (m)", rotation=90,
         ha="center", va="center", fontsize=21)
fig.text(95 / W, 1 - 688 / H, "Smoothed Height Variation (m)", rotation=90,
         ha="center", va="center", fontsize=21)

leg_y = [945, 976, 1007, 1038]
for name, col, yy in zip(mission_names, mission_colors, leg_y):
    fig.text(116 / W, 1 - yy / H, "*** " + name, color=col, ha="left", va="center",
             fontsize=19.3)

info_x = [1204, 1116, 1032]
for line, xx, yy in zip(info_lines, info_x, leg_y[:3]):
    fig.text(xx / W, 1 - yy / H, line, color="black", ha="left", va="center",
             fontsize=19.3)

fig.savefig("out.png", dpi=100, facecolor="white")
